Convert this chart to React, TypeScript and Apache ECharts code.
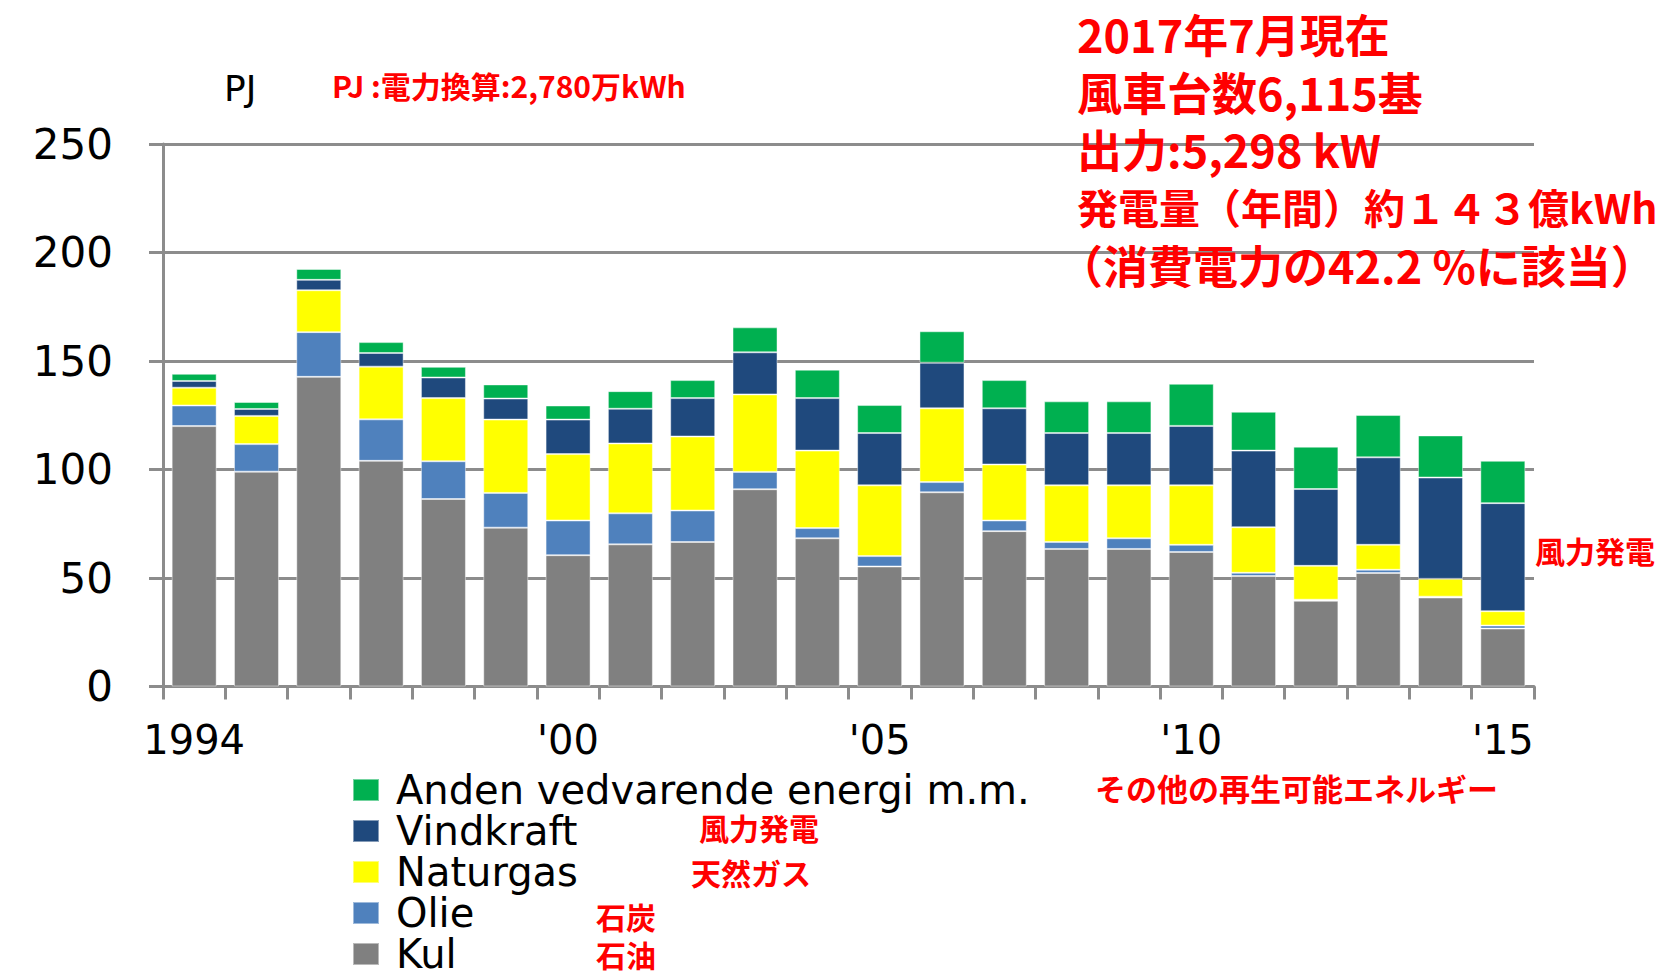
import React, { useEffect, useRef } from "react";
import * as echarts from "echarts";

const years = ["1994","1995","1996","1997","1998","1999","2000","2001","2002","2003","2004","2005","2006","2007","2008","2009","2010","2011","2012","2013","2014","2015"];
const tickLabels: Record<string, string> = { "1994": "1994", "2000": "'00", "2005": "'05", "2010": "'10", "2015": "'15" };

const kul = [120, 99, 142.7, 104, 86.4, 73.2, 60.5, 65.5, 66.6, 90.9, 68.3, 55.3, 89.5, 71.6, 63.4, 63.4, 62, 50.9, 39.5, 52.3, 41, 26.7];
const olie = [9.5, 12.7, 20.6, 19.1, 17.4, 16, 16, 14.3, 14.5, 8, 4.7, 4.8, 4.7, 4.9, 3.2, 4.9, 3.3, 1.5, 0.5, 1.5, 0.4, 1.4];
const naturgas = [8.2, 13, 19.3, 24.3, 29.1, 33.8, 30.6, 32.2, 34.1, 35.7, 35.7, 32.6, 34, 25.8, 26.1, 24.4, 27.4, 21, 15.6, 11.5, 8.2, 6.6];
const vindkraft = [3.1, 3.2, 4.8, 6.3, 9.5, 9.7, 15.9, 16, 17.7, 19.4, 24.2, 24.1, 21, 25.9, 24.1, 24.1, 27.4, 35.3, 35.4, 40.3, 46.7, 49.8];
const anden = [3.3, 3.2, 5, 5, 4.9, 6.5, 6.5, 8.1, 8.3, 11.5, 13.1, 12.9, 14.5, 13, 14.6, 14.6, 19.4, 17.9, 19.5, 19.5, 19.4, 19.5];

const seriesNames = ["Kul", "Olie", "Naturgas", "Vindkraft", "Anden vedvarende energi m.m."];
const seriesColors = ["#808080", "#4f81bd", "#ffff00", "#1f497d", "#00b050"];
const seriesData = [kul, olie, naturgas, vindkraft, anden];

const infoLines = [
  "2017年7月現在",
  "風車台数6,115基",
  "出力:5,298 kW",
  "発電量（年間）約１４３億kWh",
  "（消費電力の42.2 %に該当）",
];

const RED = "#ff0000";
const JP = "'Noto Sans CJK JP', sans-serif";
const LAT = "'DejaVu Sans', sans-serif";

export default function App() {
  const ref = useRef<HTMLDivElement>(null);
  useEffect(() => {
    if (!ref.current) return;
    const chart = echarts.init(ref.current, null, { renderer: "svg" });
    const redText = (text: string, x: number, y: number, size: number) => ({
      type: "text",
      x,
      y,
      z: 100,
      style: { text, fill: RED, font: `bold ${size}px ${JP}`, textAlign: "left", textVerticalAlign: "middle" },
    });
    const infoY = [33, 91, 148, 206, 264];
    const infoX = [1077, 1077, 1077, 1077, 1058];
    const infoSize = [45, 45, 45, 41, 45];
    chart.setOption({
      animation: false,
      backgroundColor: "#ffffff",
      grid: { left: 163, right: 133, top: 144, bottom: 286.5, containLabel: false },
      legend: {
        orient: "vertical",
        left: 352,
        top: 770,
        height: 240,
        padding: 0,
        icon: "rect",
        itemWidth: 26,
        itemHeight: 22,
        itemGap: 1,
        data: [...seriesNames].reverse(),
        textStyle: { fontFamily: LAT, fontSize: 40, color: "#000", padding: [0, 0, 0, 12] },
      },
      xAxis: {
        type: "category",
        data: years,
        axisLine: { lineStyle: { color: "#8c8c8c", width: 3 } },
        axisTick: { show: true, length: 13, lineStyle: { color: "#8c8c8c", width: 3 }, alignWithLabel: false, interval: 0 },
        axisLabel: {
          interval: (idx: number, val: string) => tickLabels[val] !== undefined,
          formatter: (val: string) => tickLabels[val] ?? "",
          fontFamily: LAT,
          fontSize: 40,
          color: "#000",
          margin: 33,
        },
      },
      yAxis: {
        type: "value",
        min: 0,
        max: 250,
        interval: 50,
        axisLine: { show: true, lineStyle: { color: "#8c8c8c", width: 3 } },
        axisTick: { show: true, length: 14, lineStyle: { color: "#8c8c8c", width: 3 } },
        splitLine: { lineStyle: { color: "#8c8c8c", width: 3 } },
        axisLabel: { fontFamily: LAT, fontSize: 42, color: "#000", margin: 50 },
      },
      series: seriesNames.map((name, i) => ({
        name,
        type: "bar",
        stack: "total",
        barWidth: 45,
        data: seriesData[i],
        itemStyle: { color: seriesColors[i], borderColor: "rgba(255,255,255,0.45)", borderWidth: 1 },
      })),
      graphic: [
        { type: "text", x: 224, y: 88, style: { text: "PJ", fill: "#000", font: `36px ${LAT}`, textAlign: "left", textVerticalAlign: "middle" } },
        redText("PJ :電力換算:2,780万kWh", 332, 85, 30),
        ...infoLines.map((t, i) => redText(t, infoX[i], infoY[i], infoSize[i])),
        redText("風力発電", 1535, 550, 30),
        redText("その他の再生可能エネルギー", 1095, 787, 31),
        redText("風力発電", 699, 827, 30),
        redText("天然ガス", 691, 872, 30),
        redText("石炭", 596, 916, 30),
        redText("石油", 596, 954, 30),
      ],
    });
    return () => chart.dispose();
  }, []);
  return <div ref={ref} style={{ position: "fixed", left: 0, top: 0, width: 1667, height: 973 }} />;
}
